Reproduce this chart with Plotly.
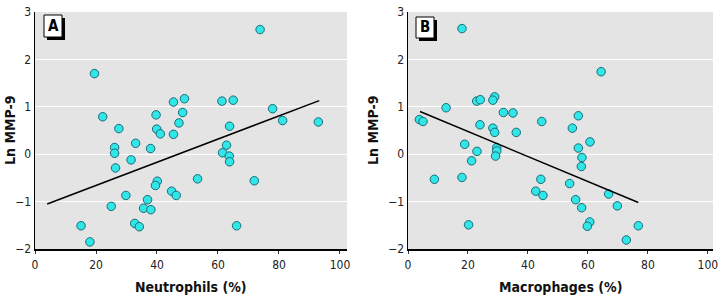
import plotly.graph_objects as go

# Panel A: Neutrophils (%) vs Ln MMP-9
neut_x = [73.8, 19.5, 22.2, 27.5, 26.1, 33.0, 37.9, 39.7, 39.9, 41.1, 45.4, 45.4, 49.0, 48.4,
          47.2, 61.3, 65.0, 63.8, 62.8, 77.9, 81.2, 92.9, 61.5, 26.1, 26.4, 31.5, 63.7, 63.8,
          53.3, 71.9, 40.1, 39.5, 29.8, 44.8, 46.3, 36.9, 25.0, 35.6, 38.0, 32.7, 34.2, 15.1,
          18.0, 66.1]
neut_y = [2.63, 1.70, 0.79, 0.54, 0.14, 0.23, 0.12, 0.83, 0.53, 0.43, 0.42, 1.10, 1.17, 0.88,
          0.66, 1.12, 1.14, 0.59, 0.19, 0.96, 0.71, 0.68, 0.03, 0.02, -0.29, -0.12, -0.04, -0.16,
          -0.52, -0.56, -0.57, -0.66, -0.87, -0.78, -0.87, -0.96, -1.10, -1.14, -1.17, -1.46, -1.53, -1.51,
          -1.85, -1.51]
neut_fit_x = [4.0, 93.2]
neut_fit_y = [-1.05, 1.13]

# Panel B: Macrophages (%) vs Ln MMP-9
mac_x = [18.0, 64.4, 12.7, 22.9, 24.1, 28.9, 28.3, 31.8, 35.0, 3.8, 5.0, 24.0, 28.3, 28.9,
         36.1, 44.6, 56.8, 54.8, 60.7, 18.9, 56.8, 29.6, 23.0, 29.6, 29.2, 21.2, 58.0, 57.8,
         8.8, 18.0, 44.3, 53.9, 42.6, 45.0, 66.9, 55.9, 57.9, 69.8, 20.2, 60.6, 59.8, 76.8, 72.8]
mac_y = [2.65, 1.74, 0.98, 1.12, 1.15, 1.21, 1.14, 0.88, 0.87, 0.73, 0.69, 0.62, 0.55, 0.46,
         0.46, 0.69, 0.81, 0.55, 0.26, 0.21, 0.13, 0.14, 0.06, 0.07, -0.04, -0.14, -0.07, -0.26,
         -0.53, -0.49, -0.53, -0.62, -0.78, -0.87, -0.84, -0.96, -1.13, -1.09, -1.49, -1.43, -1.52, -1.51, -1.81]
mac_fit_x = [4.0, 76.8]
mac_fit_y = [0.90, -1.02]

x_ticks = [0, 20, 40, 60, 80, 100]
y_ticks = [-2, -1, 0, 1, 2, 3]
x_titles = ["Neutrophils (%)", "Macrophages (%)"]
y_title = "Ln MMP-9"
panel_labels = ["A", "B"]

W, H = 721, 302
FAM = "DejaVu Sans Condensed, Liberation Sans Narrow, Arial Narrow, sans-serif"
TICKFONT = dict(family=FAM, size=12, color="#222")
TITLEFONT = dict(family=FAM, size=14, color="#111", weight="bold")

marker = dict(size=8.5, color="#30e6e6", line=dict(color="#1b6a78", width=1))

fig = go.Figure()
fig.add_trace(go.Scatter(x=neut_x, y=neut_y, mode="markers", marker=marker, xaxis="x", yaxis="y", showlegend=False))
fig.add_trace(go.Scatter(x=neut_fit_x, y=neut_fit_y, mode="lines", line=dict(color="black", width=1.5), xaxis="x", yaxis="y", showlegend=False))
fig.add_trace(go.Scatter(x=mac_x, y=mac_y, mode="markers", marker=marker, xaxis="x2", yaxis="y2", showlegend=False))
fig.add_trace(go.Scatter(x=mac_fit_x, y=mac_fit_y, mode="lines", line=dict(color="black", width=1.5), xaxis="x2", yaxis="y2", showlegend=False))

ydom = [1 - 249 / H, 1 - 12 / H]
xdomA = [35 / W, 347 / W]
xdomB = [408 / W, 713 / W]

def xaxis(dom, anchor, rng):
    return dict(domain=dom, anchor=anchor, range=rng, tickvals=x_ticks, showgrid=False, zeroline=False,
                showline=True, linecolor="black", linewidth=1.5, ticks="outside", ticklen=3, tickcolor="#333",
                tickfont=TICKFONT, ticklabelstandoff=1, ticklabeloverflow="allow",
                automargin=False, fixedrange=True)

def yaxis(anchor):
    return dict(domain=ydom, anchor=anchor, range=[-2, 3], tickvals=y_ticks, showgrid=True, gridcolor="white",
                gridwidth=1.2, zeroline=False, showline=True, linecolor="black", linewidth=1.5,
                ticks="", tickfont=TICKFONT, ticklabeloverflow="allow",
                automargin=False, fixedrange=True)

fig.update_layout(
    width=W, height=H,
    margin=dict(l=0, r=0, t=0, b=0),
    paper_bgcolor="white",
    plot_bgcolor="#e4e4e4",
    xaxis=xaxis(xdomA, "y", [0, 102.3]),
    yaxis=yaxis("x"),
    xaxis2=xaxis(xdomB, "y2", [0, 101.7]),
    yaxis2=yaxis("x2"),
)

shapes = []
annotations = []
# panel label boxes with drop shadow
for (bx0, by0, bx1, by1), lab in zip([(44, 15, 62, 37), (416, 17, 434, 38)], panel_labels):
    shapes.append(dict(type="rect", xref="paper", yref="paper",
                       x0=(bx0 + 3) / W, x1=(bx1 + 3) / W, y0=1 - (by1 + 3) / H, y1=1 - (by0 + 3) / H,
                       fillcolor="black", line=dict(width=0)))
    shapes.append(dict(type="rect", xref="paper", yref="paper",
                       x0=bx0 / W, x1=bx1 / W, y0=1 - by1 / H, y1=1 - by0 / H,
                       fillcolor="white", line=dict(color="black", width=1)))
    annotations.append(dict(xref="paper", yref="paper", x=(bx0 + bx1) / 2 / W, y=1 - (by0 + by1) / 2 / H,
                            text=lab, showarrow=False, xanchor="center", yanchor="middle",
                            font=dict(family=FAM, size=15, color="black", weight="bold")))
# axis titles
for cx, t in zip([191, 560], x_titles):
    annotations.append(dict(xref="paper", yref="paper", x=cx / W, y=1 - 287 / H, text=t, showarrow=False,
                            xanchor="center", yanchor="middle", font=TITLEFONT))
for cx in [10, 373]:
    annotations.append(dict(xref="paper", yref="paper", x=cx / W, y=1 - 131 / H, text=y_title, showarrow=False,
                            textangle=-90, xanchor="center", yanchor="middle", font=TITLEFONT))
fig.update_layout(shapes=shapes, annotations=annotations)

fig.write_html("out.html", config={"displayModeBar": False, "staticPlot": True},
               post_script="document.body.style.margin='0';")
